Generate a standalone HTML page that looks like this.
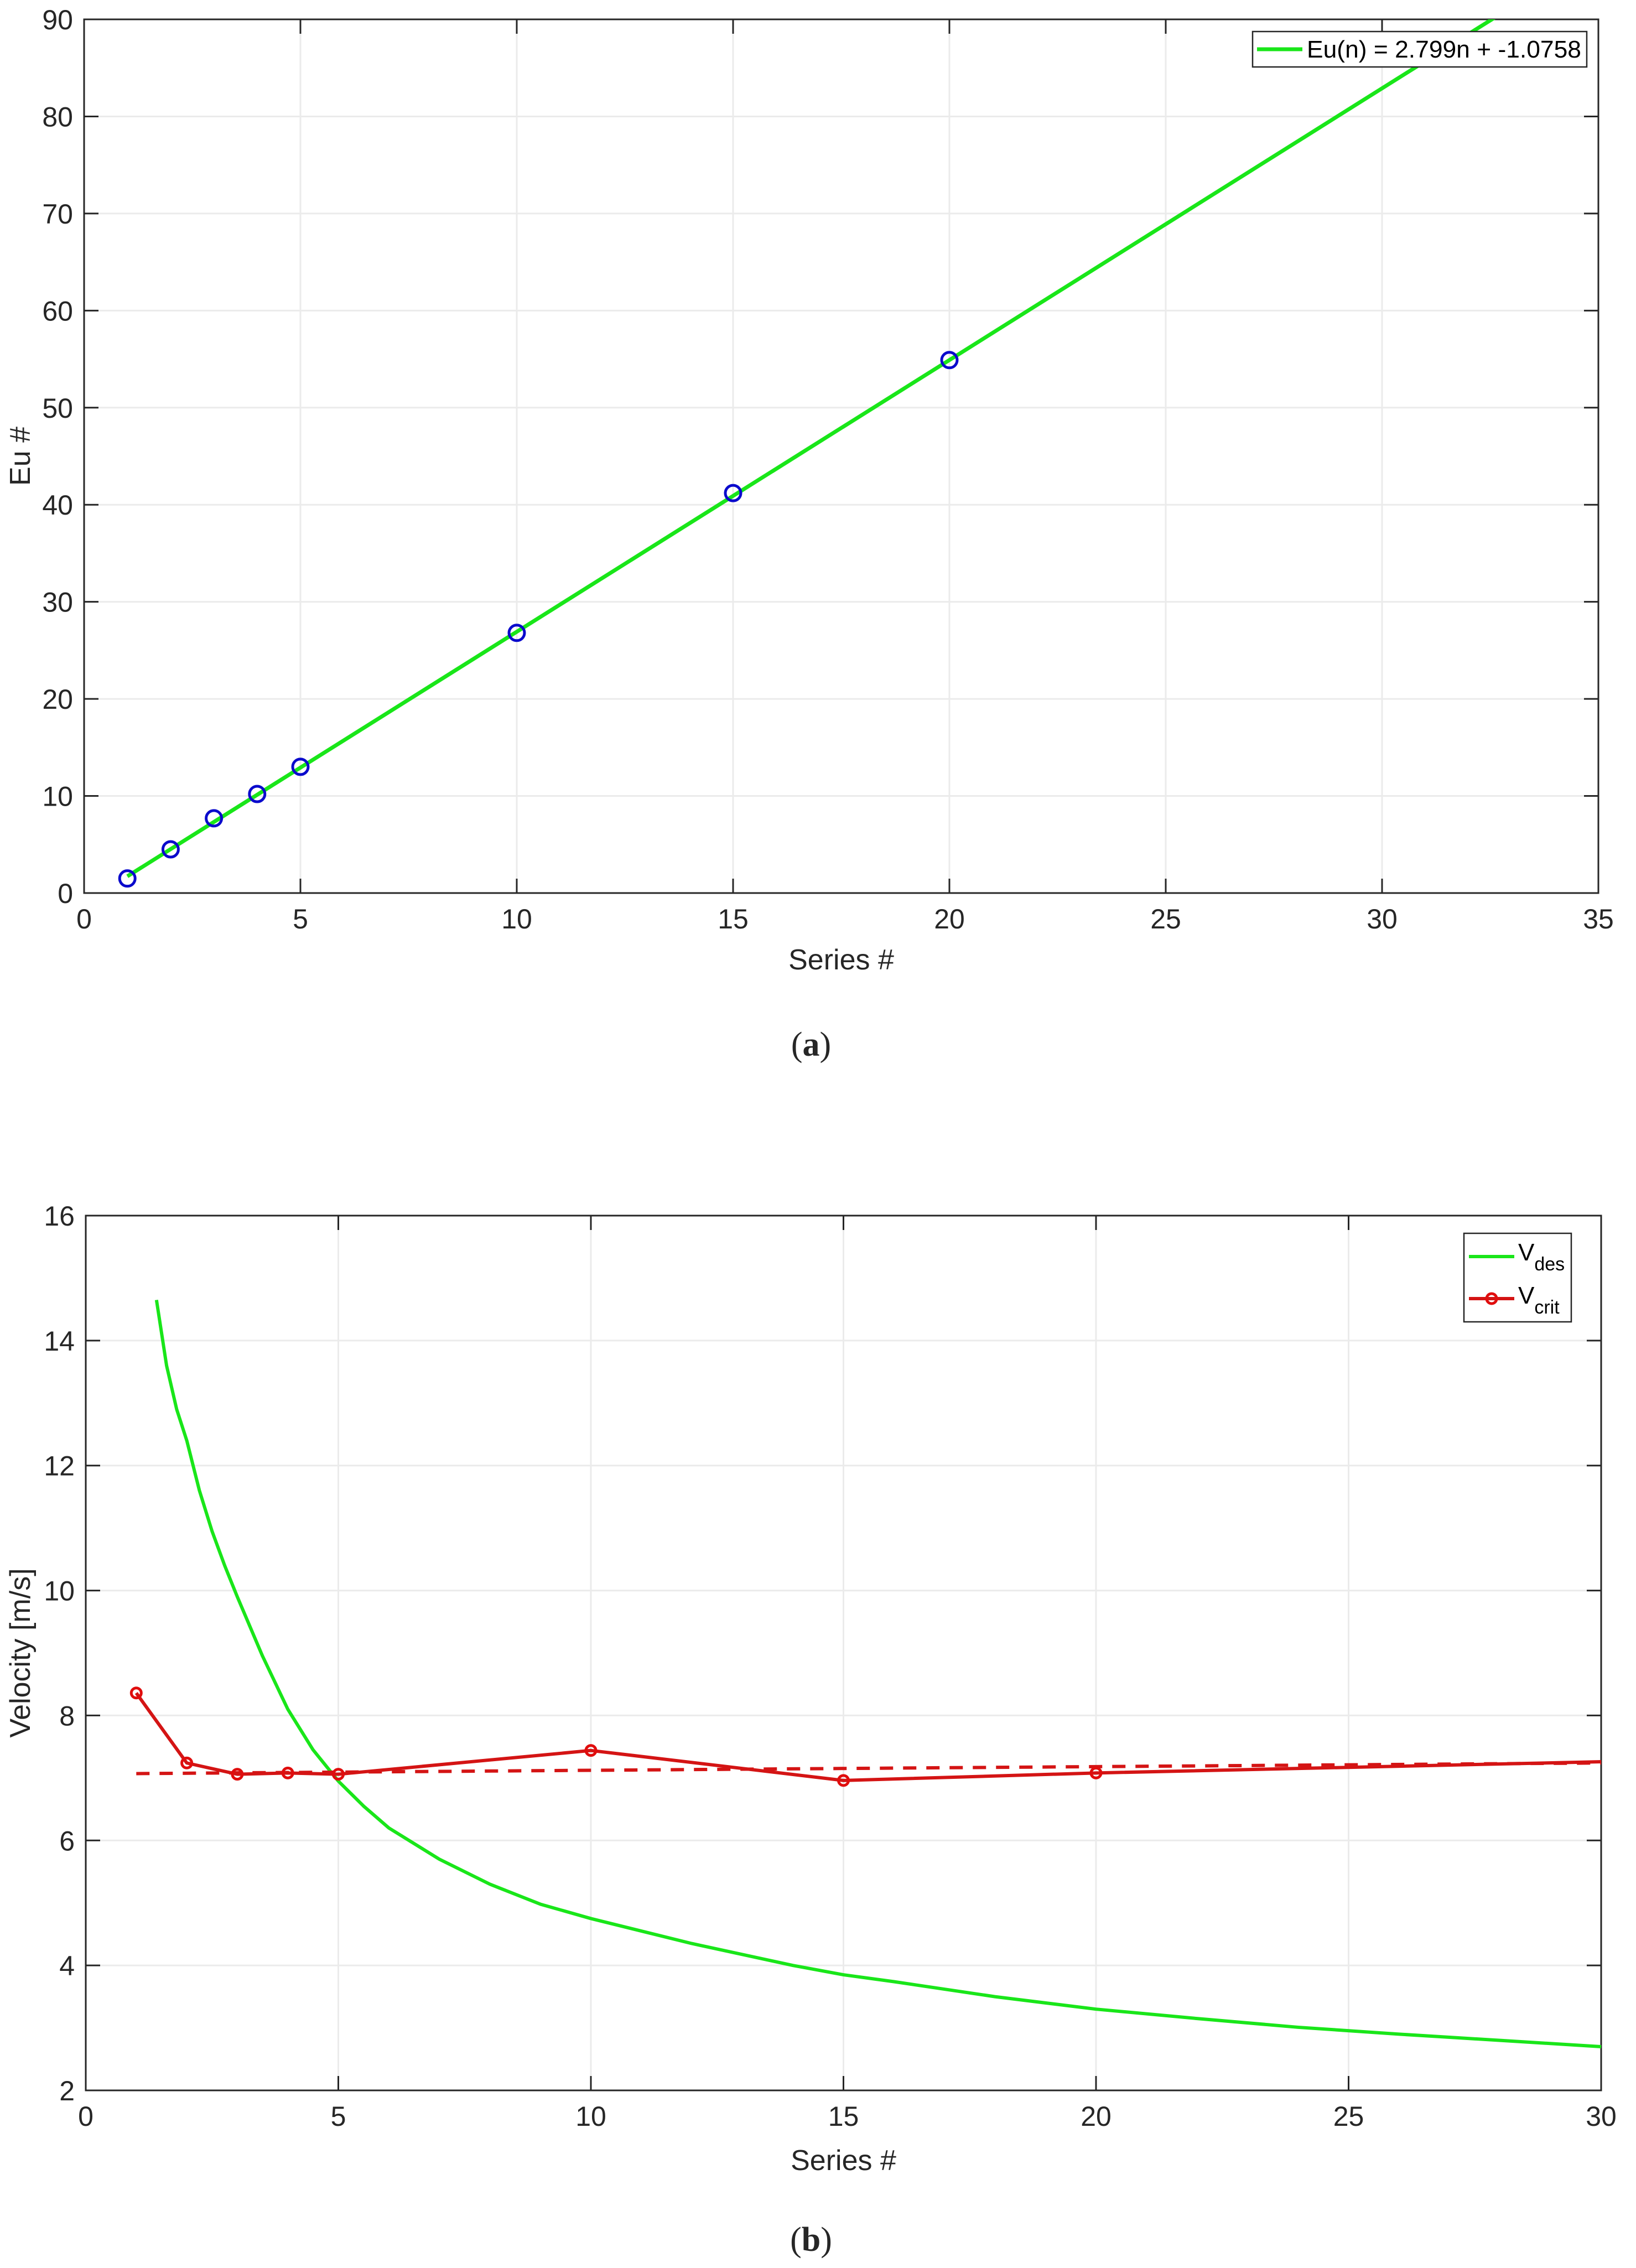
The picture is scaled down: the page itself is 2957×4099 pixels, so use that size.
<!DOCTYPE html>
<html><head><meta charset="utf-8"><style>
html,body{margin:0;padding:0;background:#fff;}
svg{display:block;}
text{font-family:"Liberation Sans",Arial,sans-serif;fill:#262626;}
</style></head><body>
<svg id="fig" width="2957" height="4099" viewBox="0 0 2957 4099" xmlns="http://www.w3.org/2000/svg">
<rect width="2957" height="4099" fill="#fff"/>
<g id="chartA"></g>
<g id="chartB"></g>
<text x="1466" y="1908" font-size="62" text-anchor="middle" style="font-family:'Liberation Serif',serif">(<tspan font-weight="bold">a</tspan>)</text>
<text x="1466" y="4068" font-size="62" text-anchor="middle" style="font-family:'Liberation Serif',serif">(<tspan font-weight="bold">b</tspan>)</text>
</svg>
<script>
// ---- Chart A data ----
const aXTicks = [0,5,10,15,20,25,30,35];
const aYTicks = [0,10,20,30,40,50,60,70,80,90];
const aSeries = [1,2,3,4,5,10,15,20];
const aEu = [1.5,4.5,7.7,10.2,13.0,26.8,41.2,54.9];
const aFitSlope = [2.799];
const aFitIntercept = [-1.0758];
const aFitRange = [1,35];
// ---- Chart B data ----
const bXTicks = [0,5,10,15,20,25,30];
const bYTicks = [2,4,6,8,10,12,14,16];
const bDesN = [1.4,1.6,1.8,2,2.25,2.5,2.75,3,3.5,4,4.5,5,5.5,6,7,8,9,10,12,14,15,16,18,20,22,24,26,28,30];
const bDesV = [14.65,13.6,12.9,12.4,11.6,10.95,10.4,9.9,8.95,8.1,7.45,6.95,6.55,6.2,5.7,5.3,4.98,4.75,4.35,4.0,3.85,3.74,3.5,3.3,3.15,3.01,2.9,2.8,2.7];
const bCritN = [1,2,3,4,5,10,15,20,30];
const bCritV = [8.36,7.24,7.06,7.08,7.06,7.44,6.96,7.08,7.26];
const bCritMarkerN = [1,2,3,4,5,10,15,20];
const bTrendN = [1,30];
const bTrendV = [7.07,7.24];

const NS='http://www.w3.org/2000/svg';
function mk(parent,tag,attrs){const e=document.createElementNS(NS,tag);for(const k in attrs)e.setAttribute(k,attrs[k]);parent.appendChild(e);return e;}
function scale(d0,d1,r0,r1){return v=>r0+(v-d0)/(d1-d0)*(r1-r0);}

function axes(g,L,R,T,B,xs,ys,xt,yt,fs,xlab,ylab,xlabY,ylabX){
  xt.forEach(t=>{const x=xs(t);
    const gl=mk(g,'line',{x1:x,x2:x,y1:T,y2:B,stroke:'#ebebeb','stroke-width':3});
    
    
  });
  yt.forEach(t=>{const y=ys(t);
    const gl=mk(g,'line',{x1:L,x2:R,y1:y,y2:y,stroke:'#ebebeb','stroke-width':3});
    
    
  });
  const fr=mk(g,'rect',{x:L,y:T,width:R-L,height:B-T,fill:'none',stroke:'#262626','stroke-width':3});
  
  
  xt.forEach(t=>{const x=xs(t);
    mk(g,'line',{x1:x,x2:x,y1:B,y2:B-26,stroke:'#262626','stroke-width':3});
    mk(g,'line',{x1:x,x2:x,y1:T,y2:T+26,stroke:'#262626','stroke-width':3});
    const tx=mk(g,'text',{x:x,y:B+64,'font-size':50,'text-anchor':'middle'});tx.textContent=t;
    
    
  });
  yt.forEach(t=>{const y=ys(t);
    mk(g,'line',{x1:L,x2:L+26,y1:y,y2:y,stroke:'#262626','stroke-width':3});
    mk(g,'line',{x1:R,x2:R-26,y1:y,y2:y,stroke:'#262626','stroke-width':3});
    const tx=mk(g,'text',{x:L-20,y:y+18,'font-size':50,'text-anchor':'end'});tx.textContent=t;
    
    
  });
  const xl=mk(g,'text',{x:(L+R)/2,y:xlabY,'font-size':52,'text-anchor':'middle'});xl.textContent=xlab;
  
  
  const yl=mk(g,'text',{x:0,y:0,'font-size':52,'text-anchor':'middle',transform:`translate(${ylabX},${(T+B)/2}) rotate(-90)`});yl.textContent=ylab;
  
  
}

// ---- Chart A ----
(function(){
  const g=document.getElementById('chartA');
  const L=152,R=2889,T=35,B=1614;
  const xs=scale(0,35,L,R), ys=scale(0,90,B,T);
  axes(g,L,R,T,B,xs,ys,aXTicks,aYTicks,50,'Series #','Eu #',1752,54);
  const cp=mk(g,'clipPath',{id:'clipA'});mk(cp,'rect',{x:L,y:T,width:R-L,height:B-T});
  const m=aFitSlope[0],c=aFitIntercept[0];
  const fit=mk(g,'line',{x1:xs(aFitRange[0]),y1:ys(m*aFitRange[0]+c),x2:xs(aFitRange[1]),y2:ys(m*aFitRange[1]+c),stroke:'#19e619','stroke-width':7,'clip-path':'url(#clipA)'});
  
  
  aSeries.forEach((n,i)=>{
    const p=mk(g,'circle',{cx:xs(n),cy:ys(aEu[i]),r:14,fill:'none',stroke:'#0a0acc','stroke-width':5});
    
    
  });
  const lg=mk(g,'g',{});
  
  
  mk(lg,'rect',{x:2264,y:57,width:604,height:64,fill:'#fff',stroke:'#262626','stroke-width':2.5});
  mk(lg,'line',{x1:2272,x2:2354,y1:89,y2:89,stroke:'#19e619','stroke-width':7});
  const lt=mk(lg,'text',{x:2362,y:104,'font-size':44,textLength:496,lengthAdjust:'spacingAndGlyphs',style:'fill:#000'});
  lt.textContent='Eu(n) = 2.799n + -1.0758';
  
  
})();

// ---- Chart B ----
(function(){
  const g=document.getElementById('chartB');
  const L=155,R=2894,T=2197,B=3778;
  const xs=scale(0,30,L,R), ys=scale(2,16,B,T);
  axes(g,L,R,T,B,xs,ys,bXTicks,bYTicks,50,'Series #','Velocity [m/s]',3922,54);
  const des=mk(g,'polyline',{points:bDesN.map((n,i)=>xs(n)+','+ys(bDesV[i])).join(' '),fill:'none',stroke:'#19e619','stroke-width':6,'stroke-linejoin':'round'});
  
  
  const tr=mk(g,'line',{x1:xs(bTrendN[0]),y1:ys(bTrendV[0]),x2:xs(bTrendN[1]),y2:ys(bTrendV[1]),stroke:'#d41414','stroke-width':6,'stroke-dasharray':'24,18'});
  
  
  const cr=mk(g,'polyline',{points:bCritN.map((n,i)=>xs(n)+','+ys(bCritV[i])).join(' '),fill:'none',stroke:'#d41414','stroke-width':6,'stroke-linejoin':'round'});
  
  
  bCritMarkerN.forEach(n=>{const i=bCritN.indexOf(n);
    const p=mk(g,'circle',{cx:xs(n),cy:ys(bCritV[i]),r:9,fill:'none',stroke:'#e00d0d','stroke-width':5});
    
    
  });
  const lg=mk(g,'g',{});
  
  
  mk(lg,'rect',{x:2646,y:2229,width:194,height:160,fill:'#fff',stroke:'#262626','stroke-width':2.5});
  mk(lg,'line',{x1:2655,x2:2737,y1:2271,y2:2271,stroke:'#19e619','stroke-width':6});
  const t1=mk(lg,'text',{x:2744,y:2278,'font-size':44,style:'fill:#000'});
  t1.innerHTML='V<tspan dy="18" font-size="34">des</tspan>';
  
  
  mk(lg,'line',{x1:2655,x2:2737,y1:2347,y2:2347,stroke:'#d41414','stroke-width':6});
  mk(lg,'circle',{cx:2696,cy:2347,r:9,fill:'none',stroke:'#e00d0d','stroke-width':5});
  const t2=mk(lg,'text',{x:2744,y:2356,'font-size':44,style:'fill:#000'});
  t2.innerHTML='V<tspan dy="18" font-size="34">crit</tspan>';
  
  
})();
</script>
</body></html>
